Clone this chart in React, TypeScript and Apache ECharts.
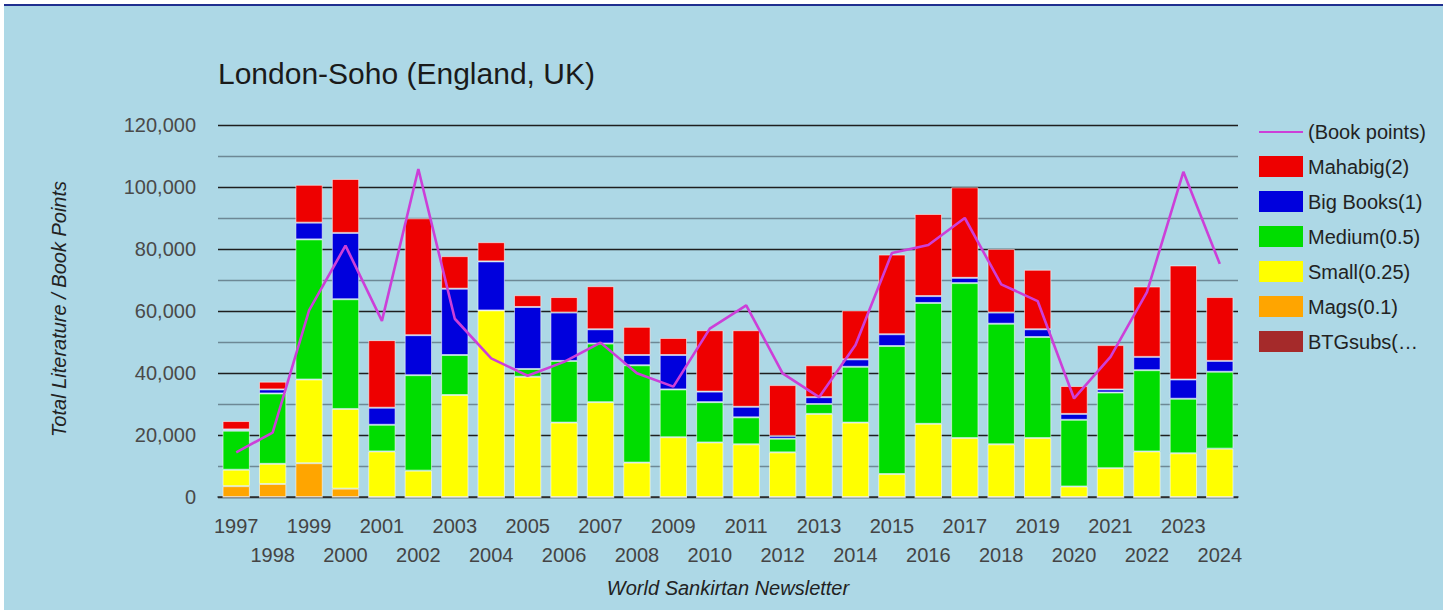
import React, { useEffect, useRef } from "react";
import * as echarts from "echarts";

const years = ["1997","1998","1999","2000","2001","2002","2003","2004","2005","2006","2007","2008","2009","2010","2011","2012","2013","2014","2015","2016","2017","2018","2019","2020","2021","2022","2023","2024"];

const btgSubs = [0,0,0,0,0,0,0,0,0,0,0,0,0,0,0,0,0,0,0,0,0,0,0,0,0,0,0,0];
const mags = [3500,4200,10900,2700,0,0,0,0,0,0,0,0,0,0,0,0,0,0,0,0,0,0,0,0,0,0,0,0];
const small = [5300,6500,27000,25700,14700,8500,32900,60200,38800,24000,30600,11100,19300,17600,17000,14400,26800,24000,7400,23600,19000,17000,19000,3400,9300,14700,14100,15600];
const medium = [12600,22700,45200,35400,8600,30800,12900,0,2500,19900,18900,31400,15400,13000,8700,4400,3200,18000,41300,39000,50000,38900,32600,21500,24400,26200,17600,24800];
const bigBooks = [400,1300,5400,21400,5500,12900,21400,15800,20000,15600,4600,3300,11100,3400,3400,900,2200,2400,3800,2200,1700,3600,2500,1900,1000,4300,6200,3500];
const mahabig = [2700,2500,12200,17400,21800,37700,10500,6200,3800,5000,13900,9100,5500,19800,24700,16400,10300,15800,25700,26500,29200,20500,19200,9000,14300,22700,36800,20600];
const bookPoints = [14400,20800,60200,81100,56800,105800,57500,44700,39100,43600,49800,39900,35600,54300,61800,39900,32200,49000,78700,81300,90000,68600,63200,31800,45200,66100,104900,75200];

const yTicks = [0, 20000, 40000, 60000, 80000, 100000, 120000];

const FONT = "Arial, 'Liberation Sans', sans-serif";

export default function App() {
  const ref = useRef<HTMLDivElement>(null);

  useEffect(() => {
    document.body.style.margin = "0";
    if (!ref.current) return;
    const chart = echarts.init(ref.current, undefined, { renderer: "svg" });
    const barSeries = [
      { name: "BTGsubs(…", data: btgSubs, color: "#a52a2a" },
      { name: "Mags(0.1)", data: mags, color: "#ffa500" },
      { name: "Small(0.25)", data: small, color: "#ffff00" },
      { name: "Medium(0.5)", data: medium, color: "#00dd00" },
      { name: "Big Books(1)", data: bigBooks, color: "#0000dd" },
      { name: "Mahabig(2)", data: mahabig, color: "#ee0000" },
    ].map((s) => ({
      name: s.name,
      type: "bar",
      stack: "total",
      data: s.data,
      barCategoryGap: "25%",
      itemStyle: { color: s.color, borderColor: "rgba(255,255,255,0.55)", borderWidth: 1 },
      emphasis: { disabled: true },
    }));

    chart.setOption({
      animation: false,
      backgroundColor: "transparent",
      textStyle: { fontFamily: FONT },
      grid: { left: 218, right: 214, top: 125, bottom: 113, containLabel: false },
      legend: {
        orient: "vertical",
        left: 1258,
        top: 122,
        padding: 0,
        itemWidth: 44,
        itemHeight: 21,
        itemGap: 14,
        textStyle: { fontSize: 20, color: "#222", fontFamily: FONT },
        itemStyle: { borderWidth: 0 },
        data: [
          { name: "(Book points)", itemStyle: { opacity: 0, color: "rgba(0,0,0,0)", borderWidth: 0 } },
          { name: "Mahabig(2)", icon: "rect" },
          { name: "Big Books(1)", icon: "rect" },
          { name: "Medium(0.5)", icon: "rect" },
          { name: "Small(0.25)", icon: "rect" },
          { name: "Mags(0.1)", icon: "rect" },
          { name: "BTGsubs(…", icon: "rect" },
        ],
      },
      xAxis: {
        type: "category",
        data: years,
        axisLine: { show: true, lineStyle: { color: "#333", width: 1.5 } },
        axisTick: { show: false },
        axisLabel: {
          interval: 0,
          fontSize: 20,
          color: "#444",
          fontFamily: FONT,
          margin: 14,
          lineHeight: 29,
          formatter: (v: string, i: number) => (i % 2 === 1 ? "\n" + v : v),
        },
      },
      yAxis: {
        type: "value",
        min: 0,
        max: 120000,
        interval: 10000,
        axisLine: { show: false },
        axisTick: { show: false },
        axisLabel: {
          fontSize: 20,
          color: "#4a4a4a",
          fontFamily: FONT,
          margin: 22,
          formatter: (v: number) => (yTicks.indexOf(v) >= 0 ? v.toLocaleString("en-US") : ""),
        },
        splitLine: {
          show: true,
          lineStyle: { color: ["#1e1e1e", "#6d8895"], width: 1.3 },
        },
      },
      graphic: [
        {
          type: "text",
          left: 218,
          top: 58,
          style: {
            text: "London-Soho (England, UK)",
            font: `30px ${FONT}`,
            fill: "#1a1a1a",
          },
        },
        {
          type: "text",
          x: 59,
          y: 309,
          rotation: Math.PI / 2,
          style: {
            text: "Total Literature / Book Points",
            font: `italic 20px ${FONT}`,
            fill: "#222",
            align: "center",
            verticalAlign: "middle",
          },
        },
        {
          type: "text",
          x: 728,
          y: 588,
          style: {
            text: "World Sankirtan Newsletter",
            font: `italic 20px ${FONT}`,
            fill: "#222",
            align: "center",
            verticalAlign: "middle",
          },
        },
      ],
      series: [
        ...barSeries,
        {
          name: "(Book points)",
          type: "line",
          data: bookPoints,
          symbol: "none",
          showSymbol: false,
          color: "#cc3fd8",
          lineStyle: { color: "#cc3fd8", width: 2.6 },
          z: 5,
          emphasis: { disabled: true },
        },
      ],
    });
    return () => chart.dispose();
  }, []);

  return (
    <div style={{ position: "relative", width: 1452, height: 610, background: "#fff", overflow: "hidden" }}>
      <div
        style={{
          position: "absolute",
          left: 4,
          top: 4,
          width: 1439,
          height: 606,
          background: "#add8e6",
          borderTop: "2px solid #1f2f8f",
          boxSizing: "border-box",
        }}
      />
      <div ref={ref} style={{ position: "absolute", left: 0, top: 0, width: 1452, height: 610 }} />
    </div>
  );
}
